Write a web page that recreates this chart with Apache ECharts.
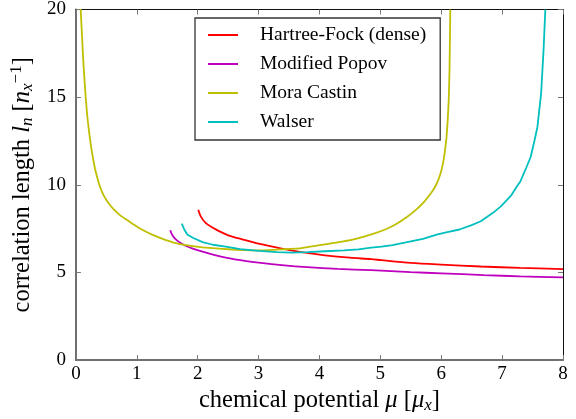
<!DOCTYPE html>
<html>
<head>
<meta charset="utf-8">
<script src="https://cdn.jsdelivr.net/npm/echarts@6/dist/echarts.min.js"></script>
<style>html,body{margin:0;padding:0;background:#fff;}#c{width:576px;height:419px;}</style>
</head>
<body>
<div id="c"></div>
<script>
var seriesNames = ['Hartree-Fock (dense)', 'Modified Popov', 'Mora Castin', 'Walser'];
var xTicks = [0, 1, 2, 3, 4, 5, 6, 7, 8];
var yTicks = [0, 5, 10, 15, 20];

var hartreeFock = [[2.01,8.58],[2.05,8.2],[2.13,7.83],[2.25,7.55],[2.35,7.36],[2.5,7.12],[2.73,6.89],[3.0,6.64],[3.38,6.36],[3.7,6.16],[4.09,5.98],[4.5,5.84],[4.85,5.76],[5.02,5.70],[5.5,5.55],[6.0,5.45],[6.65,5.34],[7.3,5.26],[8.0,5.19]];
var modifiedPopov = [[1.55,7.41],[1.58,7.15],[1.64,6.89],[1.72,6.68],[1.81,6.51],[1.92,6.36],[2.08,6.19],[2.25,6.02],[2.46,5.85],[2.8,5.65],[3.0,5.56],[3.38,5.42],[3.8,5.30],[4.3,5.20],[4.85,5.13],[5.5,5.02],[6.0,4.95],[6.7,4.85],[7.3,4.78],[8.0,4.72]];
var moraCastin = [[0.078,20.02],[0.095,18.88],[0.111,17.75],[0.127,16.74],[0.144,15.83],[0.160,15.04],[0.184,14.02],[0.217,13.0],[0.250,12.15],[0.283,11.47],[0.315,10.90],[0.348,10.45],[0.380,10.05],[0.429,9.60],[0.478,9.26],[0.544,8.92],[0.626,8.58],[0.724,8.27],[0.822,8.03],[0.935,7.76],[1.097,7.42],[1.262,7.14],[1.425,6.91],[1.589,6.72],[1.834,6.54],[2.079,6.43],[2.405,6.35],[2.73,6.27],[3.06,6.26],[3.384,6.32],[3.711,6.39],[4.087,6.60],[4.527,6.86],[4.854,7.17],[5.099,7.48],[5.262,7.76],[5.425,8.13],[5.588,8.58],[5.718,9.03],[5.834,9.53],[5.915,9.99],[5.981,10.56],[6.030,11.24],[6.063,11.98],[6.087,12.71],[6.106,13.67],[6.123,14.81],[6.136,16.51],[6.149,20.0]];
var walser = [[1.74,7.79],[1.78,7.45],[1.83,7.17],[1.92,6.98],[2.08,6.73],[2.25,6.58],[2.46,6.47],[2.7,6.33],[3.0,6.23],[3.3,6.16],[3.55,6.13],[3.8,6.16],[4.09,6.21],[4.4,6.26],[4.64,6.32],[4.85,6.42],[5.02,6.47],[5.2,6.56],[5.4,6.70],[5.7,6.92],[5.94,7.17],[6.1,7.30],[6.3,7.45],[6.5,7.70],[6.65,7.92],[6.85,8.4],[6.98,8.77],[7.15,9.4],[7.25,9.95],[7.30,10.19],[7.40,11.0],[7.47,11.6],[7.53,12.5],[7.58,13.3],[7.64,15.19],[7.68,17.64],[7.71,20]];

var colors = ['#ff0000', '#bf00bf', '#bfbf00', '#00bfbf'];
var dataSets = [hartreeFock, modifiedPopov, moraCastin, walser];
var smoothing = [0.3, 0.3, 0.1, false];
var serif = '"Liberation Serif", "DejaVu Serif", serif';

var chart = echarts.init(document.getElementById('c'), null, {renderer: 'canvas'});
var series = seriesNames.map(function (n, i) {
  return {
    name: n, type: 'line', data: dataSets[i], showSymbol: false, symbol: 'none',
    smooth: smoothing[i], clip: true,
    lineStyle: {color: colors[i], width: 1.8}, itemStyle: {color: colors[i]}
  };
});

var tickStyle = {show: true, inside: true, length: 5, lineStyle: {color: '#777', width: 1}};
var richX = {
  t: {fontFamily: serif, fontSize: 24.5, color: '#000'},
  i: {fontFamily: serif, fontSize: 24.5, fontStyle: 'italic', color: '#000'},
  s: {fontFamily: serif, fontSize: 17, fontStyle: 'italic', color: '#000', padding: [10, 0, 0, 0]},
  p: {fontFamily: serif, fontSize: 17, color: '#000', padding: [0, 0, 12, 0]}
};
chart.setOption({
  animation: false,
  backgroundColor: '#fff',
  grid: {left: 73, right: 13, top: 8, bottom: 57},
  legend: {
    orient: 'vertical', left: 195, top: 18, padding: [7, 14, 8, 13],
    itemWidth: 30, itemHeight: 2, itemGap: 9, icon: 'rect',
    borderColor: '#333', borderWidth: 1.3, backgroundColor: '#fff',
    textStyle: {fontFamily: serif, fontSize: 19.5, color: '#000', lineHeight: 20, padding: [0, 0, 0, 17]},
    data: seriesNames.map(function (n, i) { return {name: n, itemStyle: {color: colors[i]}}; })
  },
  xAxis: [{
    type: 'value', min: 0, max: 8, interval: 1, position: 'bottom',
    axisLine: {show: true, onZero: false, lineStyle: {color: '#707070', width: 2}},
    axisTick: tickStyle, splitLine: {show: false},
    axisLabel: {fontFamily: serif, fontSize: 19, color: '#000', margin: 4,
      formatter: function (v) { return xTicks.indexOf(v) >= 0 ? String(v) : ''; }},
    name: '{t|chemical potential }{i|μ}{t| [}{i|μ}{s|x}{t|]}',
    nameLocation: 'middle', nameGap: 23,
    nameTextStyle: {fontFamily: serif, fontSize: 24.5, color: '#000', rich: richX}
  }, {
    type: 'value', min: 0, max: 8, interval: 1, position: 'top',
    axisLine: {show: true, onZero: false, lineStyle: {color: '#111', width: 1}},
    axisTick: tickStyle, axisLabel: {show: false}, splitLine: {show: false}
  }],
  yAxis: [{
    type: 'value', min: 0, max: 20, interval: 5, position: 'left',
    axisLine: {show: true, onZero: false, lineStyle: {color: '#707070', width: 2}},
    axisTick: tickStyle, splitLine: {show: false},
    axisLabel: {fontFamily: serif, fontSize: 19, color: '#000', margin: 10,
      formatter: function (v) { return yTicks.indexOf(v) >= 0 ? String(v) : ''; }},
    name: '{t|correlation length }{i|l}{s|n}{t| [}{i|n}{s|x}{p|−1}{t|]}',
    nameLocation: 'middle', nameGap: 33, nameRotate: 90,
    nameTextStyle: {fontFamily: serif, fontSize: 24.5, color: '#000', rich: richX}
  }, {
    type: 'value', min: 0, max: 20, interval: 5, position: 'right',
    axisLine: {show: true, onZero: false, lineStyle: {color: '#111', width: 1}},
    axisTick: tickStyle, axisLabel: {show: false}, splitLine: {show: false}
  }],
  series: series
});
</script>
</body>
</html>
